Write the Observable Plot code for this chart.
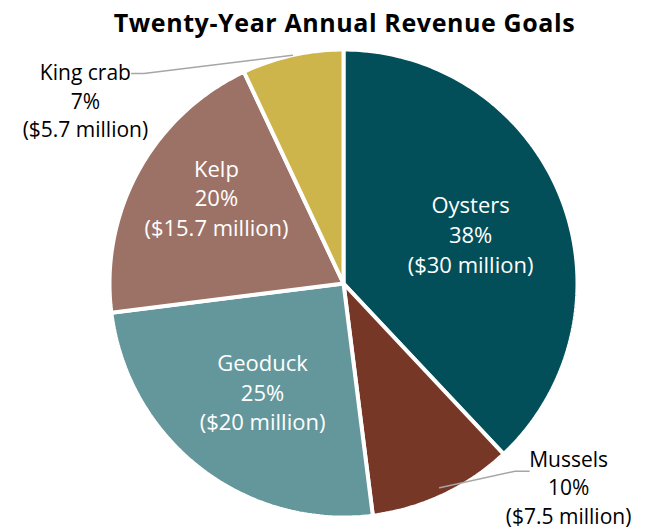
<!DOCTYPE html>
<html><head><meta charset="utf-8">
<script src="https://cdn.jsdelivr.net/npm/d3@7"></script>
<script src="https://cdn.jsdelivr.net/npm/@observablehq/plot@0.6"></script>
<style>
body{margin:0;background:#fff;font-family:"Open Sans",sans-serif;}
#title{height:40px;text-align:center;font-weight:700;font-size:25px;line-height:44px;color:#000;letter-spacing:0.6px;padding-left:42px;box-sizing:border-box;width:647px;white-space:nowrap;}
</style></head><body>
<div id="title">Twenty-Year Annual Revenue Goals</div>
<div id="chart"></div>
<script>
const categories = ["Oysters", "Mussels", "Geoduck", "Kelp", "King crab"];
const shares = [38, 10, 25, 20, 7];
const revenues = ["$30 million", "$7.5 million", "$20 million", "$15.7 million", "$5.7 million"];
const colors = ["#024f59", "#773727", "#63979b", "#9d7266", "#cdb54b"];
const outside = ["King crab", "Mussels"];

// layout
const W = 647, H = 489, cx = 343, cy = 243, R = 234;
const xDomain = [-cx / R, (W - cx) / R];
const yDomain = [-(H - cy) / R, cy / R];

// label placement (layout, in radius units)
const innerLayout = {
  "Oysters": [0.543, 0.214],
  "Geoduck": [-0.346, -0.46],
  "Kelp": [-0.543, 0.37]
};
const extLayout = {
  "King crab": {r0: 1.0, elbow: [-0.853, 0.897], end: [-0.905, 0.897], text: [-1.103, 0.786]},
  "Mussels": {r0: 0.965, elbow: [0.733, -0.802], end: [0.793, -0.802], text: [0.962, -0.866]}
};

const total = d3.sum(shares);
let acc = 0;
const slices = categories.map((name, i) => {
  const a0 = acc / total * 2 * Math.PI;
  acc += shares[i];
  const a1 = acc / total * 2 * Math.PI;
  return {name, share: shares[i], rev: revenues[i], a0, a1, mid: (a0 + a1) / 2};
});

const pts = [];
for (const s of slices) {
  pts.push({name: s.name, x: 0, y: 0});
  const n = Math.max(2, Math.ceil((s.a1 - s.a0) / (Math.PI / 180)));
  for (let k = 0; k <= n; k++) {
    const a = s.a0 + (s.a1 - s.a0) * k / n;
    pts.push({name: s.name, x: Math.sin(a), y: Math.cos(a)});
  }
}

const inner = slices.filter(s => !outside.includes(s.name)).map(s => ({
  x: innerLayout[s.name][0], y: innerLayout[s.name][1],
  text: `${s.name}\n${s.share}%\n(${s.rev})`
}));

const leaders = [];
const outer = [];
for (const s of slices.filter(s => outside.includes(s.name))) {
  const L = extLayout[s.name];
  leaders.push({name: s.name, x: L.r0 * Math.sin(s.mid), y: L.r0 * Math.cos(s.mid)});
  leaders.push({name: s.name, x: L.elbow[0], y: L.elbow[1]});
  leaders.push({name: s.name, x: L.end[0], y: L.end[1]});
  outer.push({x: L.text[0], y: L.text[1], text: `${s.name}\n${s.share}%\n(${s.rev})`});
}

const chart = Plot.plot({
  width: W, height: H,
  margin: 0,
  x: {domain: xDomain, axis: null},
  y: {domain: yDomain, axis: null},
  color: {domain: categories, range: colors},
  style: {fontFamily: "'Open Sans', sans-serif", background: "white"},
  marks: [
    Plot.line(pts, {x: "x", y: "y", z: "name", fill: "name", stroke: "white", strokeWidth: 4, curve: "linear-closed", strokeLinejoin: "miter"}),
    Plot.line(leaders, {x: "x", y: "y", z: "name", stroke: "#a6a6a6", strokeWidth: 1.5}),
    Plot.text(inner, {x: "x", y: "y", text: "text", fill: "white", fontSize: 22, lineHeight: 1.35}),
    Plot.text(outer, {x: "x", y: "y", text: "text", fill: "black", fontSize: 21, lineHeight: 1.36})
  ]
});
document.getElementById("chart").appendChild(chart);
</script>
</body></html>
